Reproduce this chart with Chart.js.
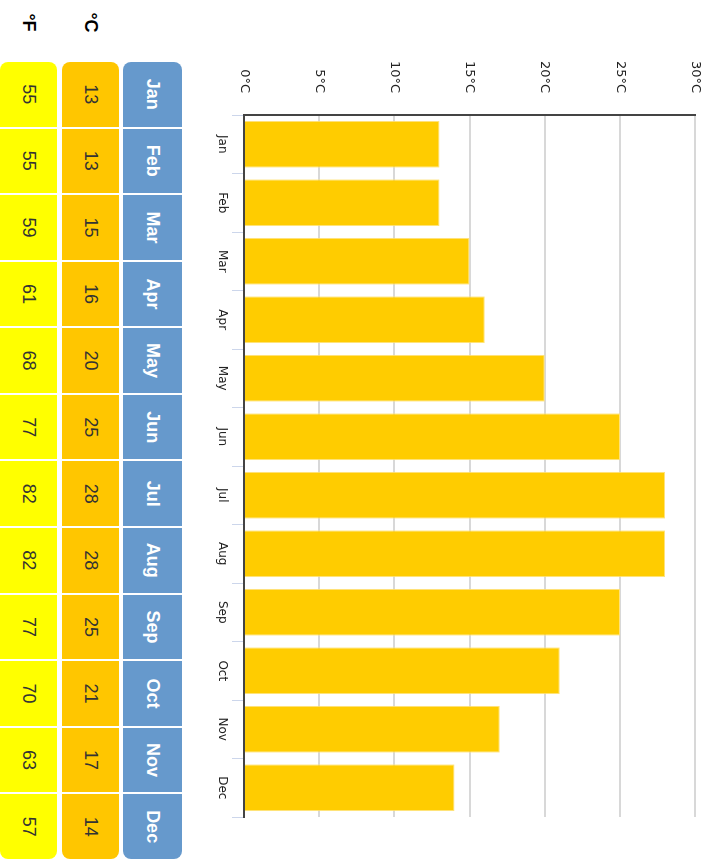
<!DOCTYPE html>
<html>
<head>
<meta charset="utf-8">
<script src="https://cdn.jsdelivr.net/npm/chart.js@4"></script>
<style>
  html, body { margin: 0; padding: 0; background: #fff; overflow: hidden; }
  body { width: 715px; height: 859px; position: relative; font-family: "Liberation Sans", Arial, sans-serif; }
  #stage {
    position: absolute; left: 0; top: 0; width: 859px; height: 715px;
    transform-origin: 0 0; transform: translate(715px, 0) rotate(90deg);
  }
  #chart { position: absolute; left: 0; top: -10px; }
  .row { position: absolute; left: 62px; width: 797px; display: flex; }
  .cell { flex: 1; text-align: center; box-sizing: border-box; border-left: 1px solid #fff; border-right: 1px solid #fff; }
  .row .cell:first-child { border-left: none; border-top-left-radius: 8px; border-bottom-left-radius: 8px; }
  .row .cell:last-child { border-right: none; border-top-right-radius: 8px; border-bottom-right-radius: 8px; }
  .mon { background: #6699cc; color: #fff; font-weight: bold; font-size: 18px; }
  .cc { background: #ffc600; color: #333; font-size: 18px; }
  .ff { background: #ffff00; color: #333; font-size: 18px; }
  .hdr { position: absolute; left: 0; width: 45px; text-align: center; font-weight: bold; font-size: 18px; color: #000; }
</style>
</head>
<body>
<div id="stage">
  <canvas id="chart" width="859" height="540"></canvas>
  <div class="row" id="rowMon" style="top:533px;height:59px;line-height:59px;"></div>
  <div class="row" id="rowC" style="top:596px;height:57px;line-height:57px;"></div>
  <div class="row" id="rowF" style="top:658px;height:57px;line-height:57px;"></div>
  <div class="hdr" style="top:596px;height:57px;line-height:57px;">°C</div>
  <div class="hdr" style="top:658px;height:57px;line-height:57px;">°F</div>
</div>
<script>
const months = ["Jan","Feb","Mar","Apr","May","Jun","Jul","Aug","Sep","Oct","Nov","Dec"];
const tempC = [13,13,15,16,20,25,28,28,25,21,17,14];
const tempF = [55,55,59,61,68,77,82,82,77,70,63,57];
const valueTicks = [0,5,10,15,20,25,30];

function fillRow(id, cls, vals) {
  const row = document.getElementById(id);
  vals.forEach(v => {
    const d = document.createElement('div');
    d.className = 'cell ' + cls;
    d.textContent = v;
    row.appendChild(d);
  });
}
fillRow('rowMon', 'mon', months);
fillRow('rowC', 'cc', tempC);
fillRow('rowF', 'ff', tempF);

const catFont = { family: '"DejaVu Sans", sans-serif', size: 12 };
const valFont = { family: '"DejaVu Sans", sans-serif', size: 13 };

new Chart(document.getElementById('chart'), {
  type: 'bar',
  data: {
    labels: months,
    datasets: [{
      data: tempC,
      backgroundColor: '#ffcc00',
      borderColor: '#ffe27a',
      borderWidth: 1,
      barPercentage: 0.8,
      categoryPercentage: 1.0
    }]
  },
  options: {
    responsive: false,
    animation: false,
    devicePixelRatio: 1,
    layout: { padding: { top: 9, right: 42, left: 0, bottom: 0 } },
    plugins: { legend: { display: false }, tooltip: { enabled: false } },
    scales: {
      x: {
        type: 'category',
        offset: true,
        grid: { drawOnChartArea: false, drawTicks: true, tickLength: 12, color: '#ccd6eb', lineWidth: 1, offset: true },
        border: { display: true, color: '#444', width: 2 },
        ticks: { color: '#222', font: catFont, padding: 3, maxRotation: 0, autoSkip: false },
        afterFit: s => { s.height = 59; }
      },
      y: {
        min: 0, max: 30,
        afterBuildTicks: s => { s.ticks = valueTicks.map(v => ({ value: v })); },
        grid: { color: '#d8d8d8', lineWidth: 2, drawTicks: false },
        border: { display: true, color: '#444', width: 2 },
        ticks: { color: '#222', font: valFont, padding: 22, callback: v => v + '°C' },
        afterFit: s => { s.width = 115; }
      }
    }
  }
});
</script>
</body>
</html>
